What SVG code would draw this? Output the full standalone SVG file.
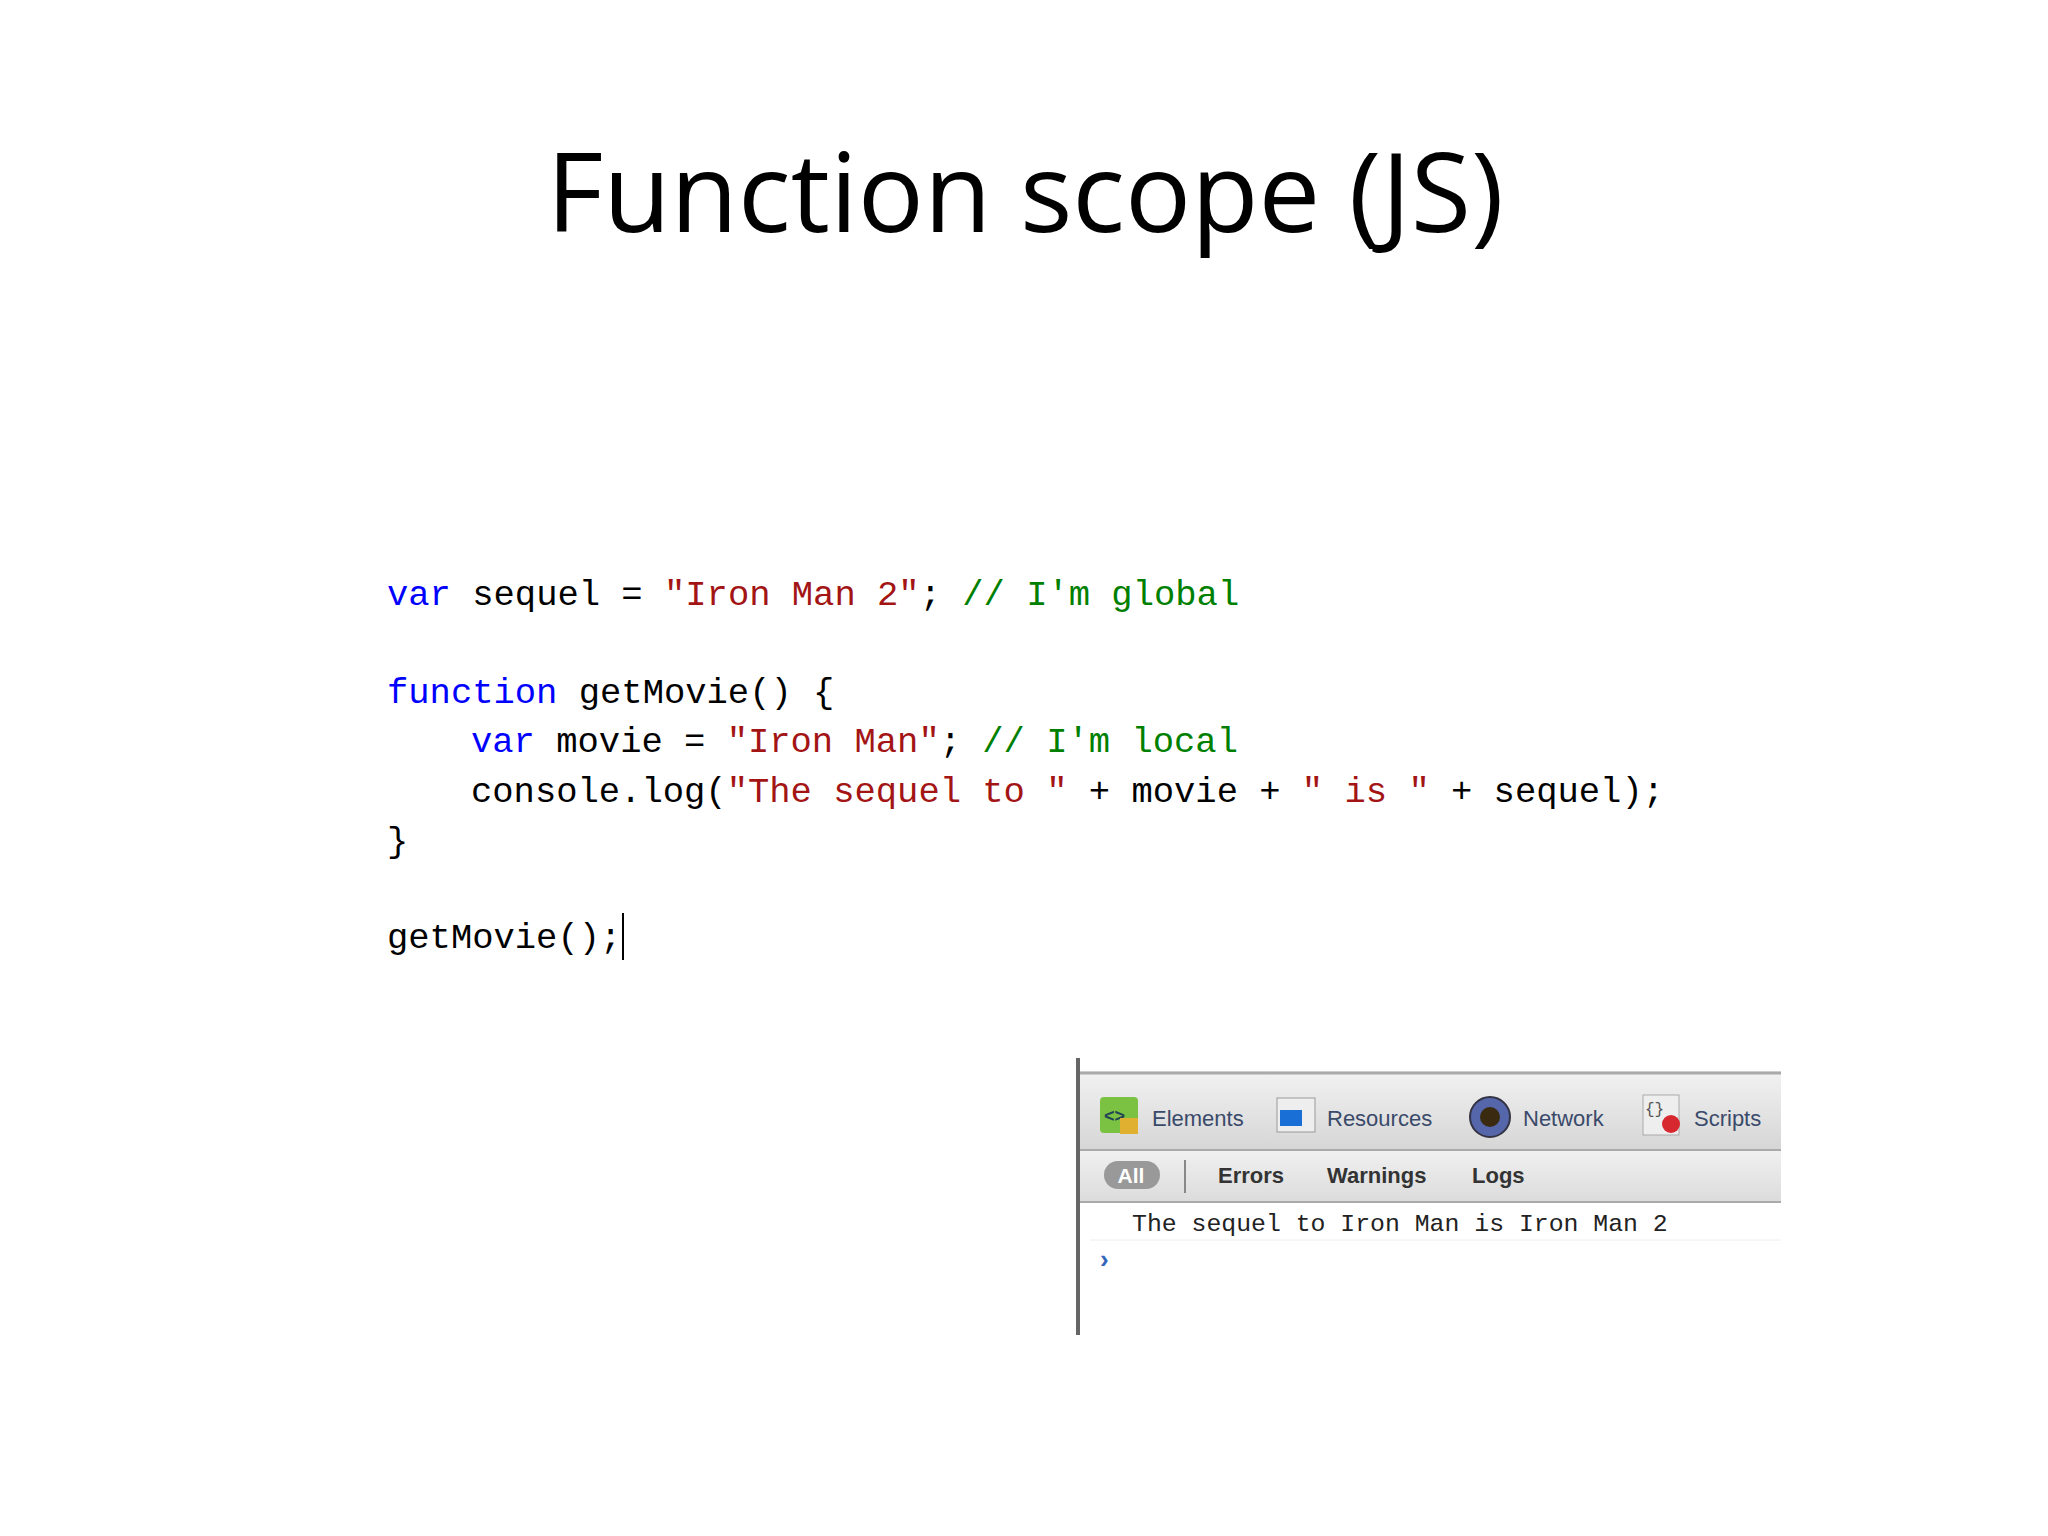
<svg xmlns="http://www.w3.org/2000/svg" width="2048" height="1536" viewBox="0 0 2048 1536">
<defs>
<style>
.c{font-family:"Liberation Mono",monospace;font-size:35.5px;fill:#000;white-space:pre}
.k{fill:#0000ff}.s{fill:#a31515}.g{fill:#008000}
.t{font-family:"Liberation Sans",Arial,sans-serif;font-size:22px;fill:#3a4a6a}
.b{font-family:"Liberation Sans",Arial,sans-serif;font-size:22px;font-weight:bold;fill:#333}
</style>
<linearGradient id="tb" x1="0" y1="0" x2="0" y2="1"><stop offset="0" stop-color="#f2f2f2"/><stop offset="1" stop-color="#d6d6d6"/></linearGradient>
<linearGradient id="tb2" x1="0" y1="0" x2="0" y2="1"><stop offset="0" stop-color="#f0f0f0"/><stop offset="1" stop-color="#dcdcdc"/></linearGradient>
</defs>
<rect width="2048" height="1536" fill="#fff"/>
<text x="1025" y="232" text-anchor="middle" font-family="Open Sans,Liberation Sans,sans-serif" font-size="110" fill="#000">Function scope (JS)</text>
<g id="code">
<text class="c" x="387" y="605"><tspan class="k">var</tspan> sequel = <tspan class="s">"Iron Man 2"</tspan>; <tspan class="g">// I'm global</tspan></text>
<text class="c" x="387" y="703"><tspan class="k">function</tspan> getMovie() {</text>
<text class="c" x="471" y="752"><tspan class="k">var</tspan> movie = <tspan class="s">"Iron Man"</tspan>; <tspan class="g">// I'm local</tspan></text>
<text class="c" x="471" y="802">console.log(<tspan class="s">"The sequel to "</tspan> + movie + <tspan class="s">" is "</tspan> + sequel);</text>
<text class="c" x="387" y="852">}</text>
<text class="c" x="387" y="948">getMovie();</text>
<line x1="623" y1="913" x2="623" y2="960" stroke="#000" stroke-width="2"/>
</g>
<g id="console">
<rect x="1077" y="1071" width="704" height="78" fill="url(#tb)"/>
<line x1="1077" y1="1073" x2="1781" y2="1073" stroke="#aaa" stroke-width="3"/>
<line x1="1077" y1="1150" x2="1781" y2="1150" stroke="#aaa" stroke-width="2"/>
<rect x="1077" y="1151" width="704" height="50" fill="url(#tb2)"/>
<line x1="1077" y1="1202" x2="1781" y2="1202" stroke="#aaa" stroke-width="2"/>
<line x1="1090" y1="1240" x2="1781" y2="1240" stroke="#eee" stroke-width="1"/>
<line x1="1078" y1="1058" x2="1078" y2="1335" stroke="#666" stroke-width="4"/>
<rect x="1100" y="1097" width="38" height="36" rx="4" fill="#7cc242"/><text x="1104" y="1122" font-family="Liberation Sans,sans-serif" font-size="18" font-weight="bold" fill="#245">&lt;&gt;</text><rect x="1120" y="1118" width="18" height="16" fill="#e0b030"/>
<text class="t" x="1152" y="1126">Elements</text>
<rect x="1277" y="1098" width="38" height="34" fill="#eee" stroke="#999"/><rect x="1280" y="1110" width="22" height="16" fill="#1a6fd6"/>
<text class="t" x="1327" y="1126">Resources</text>
<circle cx="1490" cy="1117" r="20" fill="#5566aa" stroke="#334" stroke-width="2"/><circle cx="1490" cy="1117" r="10" fill="#3a2a10"/>
<text class="t" x="1523" y="1126">Network</text>
<rect x="1643" y="1095" width="36" height="40" fill="#eee" stroke="#aaa"/><text x="1645" y="1114" font-family="Liberation Mono,monospace" font-size="16" fill="#555">{}</text><circle cx="1671" cy="1124" r="9" fill="#d8282f"/>
<text class="t" x="1694" y="1126">Scripts</text>
<rect x="1104" y="1161" width="56" height="28" rx="14" fill="#999"/>
<text x="1131" y="1183" text-anchor="middle" font-family="Liberation Sans,sans-serif" font-size="21" font-weight="bold" fill="#fff">All</text>
<line x1="1185" y1="1160" x2="1185" y2="1193" stroke="#888" stroke-width="2"/>
<text class="b" x="1218" y="1183">Errors</text>
<text class="b" x="1327" y="1183">Warnings</text>
<text class="b" x="1472" y="1183">Logs</text>
<text x="1132" y="1231" font-family="Liberation Mono,monospace" font-size="24.8" fill="#222">The sequel to Iron Man is Iron Man 2</text>
<text x="1100" y="1268" font-family="Liberation Sans,sans-serif" font-size="26" font-weight="bold" fill="#3366bb">›</text>
</g>
</svg>
